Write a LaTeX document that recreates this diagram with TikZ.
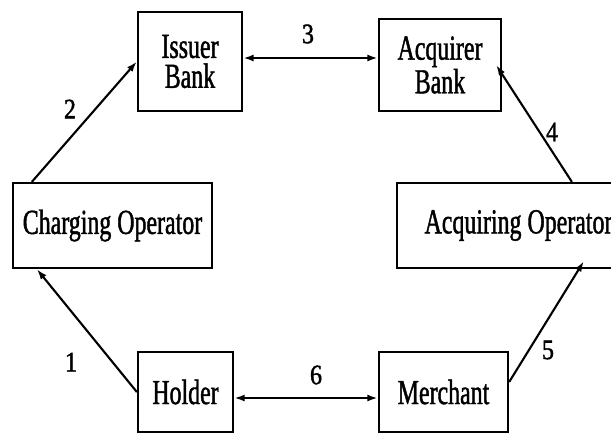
\documentclass[tikz,border=0pt]{standalone}
\usepackage{fontspec}
\setmainfont{Liberation Serif}[FakeStretch=0.68,FakeBold=1.2]
\newfontfamily\numfont{Liberation Serif}[FakeStretch=0.85,FakeBold=1.5]
\usetikzlibrary{arrows.meta}
\begin{document}
\begin{tikzpicture}[line width=1.2pt,
 boxnode/.style={draw,line width=1.3pt,inner sep=0pt,align=center,font=\fontsize{20}{16}\selectfont},
 numlabel/.style={font=\numfont\fontsize{16}{16}\selectfont},
 flow/.style={-{Latex[length=6pt,width=4pt]}},
 twoflow/.style={{Latex[length=6pt,width=4pt]}-{Latex[length=6pt,width=4pt]}}]
\useasboundingbox (0,0) rectangle (12.22,-8.68);
\clip (0,0) rectangle (12.22,-8.68);
% boxes
\path (3.8,-1.23) node[boxnode,minimum width=2.08cm,minimum height=1.98cm] (issuer) {Issuer\\[1pt]Bank}
 (8.8,-1.3) node[boxnode,minimum width=2.44cm,minimum height=1.84cm] (acquirer) {Acquirer\\Bank}
 (2.25,-4.51) node[boxnode,minimum width=3.98cm,minimum height=1.7cm] (charging) {Charging Operator}
 (10.37,-4.51) node[boxnode,minimum width=4.86cm,minimum height=1.7cm] (acquiring) {Acquiring Operator}
 (3.71,-7.84) node[boxnode,minimum width=1.9cm,minimum height=1.6cm] (holder) {Holder}
 (8.87,-7.84) node[boxnode,minimum width=2.58cm,minimum height=1.6cm] (merchant) {Merchant};
% numbers
\path (1.42,-7.24) node[numlabel] (n1) {1} (1.4,-2.18) node[numlabel] (n2) {2}
 (6.16,-0.68) node[numlabel] (n3) {3} (11.04,-2.64) node[numlabel] (n4) {4}
 (10.96,-7.0) node[numlabel] (n5) {5} (6.32,-7.5) node[numlabel] (n6) {6};
% flows
\draw[flow] (holder.west) -- ([xshift=.5cm]charging.south west);
\draw[flow] ([xshift=.4cm]charging.north west) -- (issuer.west);
\draw[twoflow] ([yshift=.07cm]issuer.east) -- ([yshift=.07cm]issuer.east -| acquirer.west);
\draw[flow] ([xshift=3.52cm]acquiring.north west) -- ([xshift=-.12cm]acquirer.east);
\draw[flow] ([yshift=.2cm]merchant.east) -- ([xshift=3.76cm,yshift=.16cm]acquiring.south west);
\draw[twoflow] ([yshift=-.12cm]holder.east) -- ([yshift=-.12cm]merchant.west);
\end{tikzpicture}
\end{document}
